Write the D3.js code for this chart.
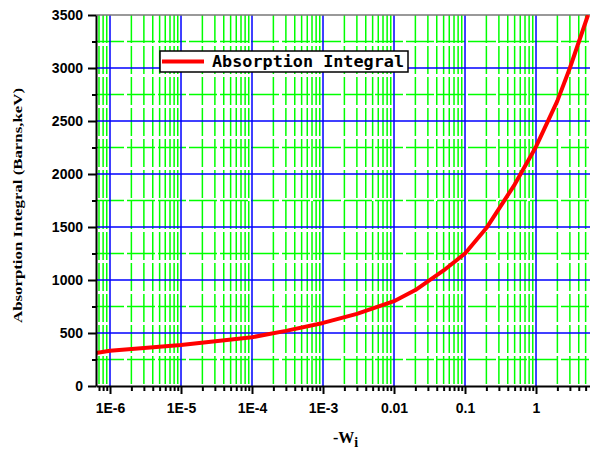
<!DOCTYPE html>
<html>
<head>
<meta charset="utf-8">
<script src="https://cdn.jsdelivr.net/npm/d3@7"></script>
<style>
  body { margin: 0; background: #fff; }
  .tick-label { font-family: "Liberation Sans", Arial, sans-serif; font-weight: bold; font-size: 14px; }
</style>
</head>
<body>
<div class="chart"></div>
<script>
// values
var wValues = [6.35e-7, 1e-6, 1e-5, 1e-4, 3e-4, 1e-3, 3e-3, 0.01, 0.02, 0.05, 0.1, 0.2, 0.5, 1, 2, 3, 5.4];
var absorption = [311, 332, 387, 460, 520, 595, 680, 800, 905, 1090, 1250, 1490, 1900, 2258, 2690, 3000, 3500];
var xTickValues = [1e-6, 1e-5, 1e-4, 1e-3, 0.01, 0.1, 1];
var xTickLabels = ["1E-6", "1E-5", "1E-4", "1E-3", "0.01", "0.1", "1"];
var yTickValues = [0, 500, 1000, 1500, 2000, 2500, 3000, 3500];
var seriesName = "Absorption Integral";

var svgWidth = 590;
var svgHeight = 452;

var margin = { top: 15, right: 0, bottom: 66, left: 96 };
var width = svgWidth - margin.left - margin.right;
var height = svgHeight - margin.top - margin.bottom;

var svg = d3.select(".chart")
  .append("svg")
  .attr("width", svgWidth)
  .attr("height", svgHeight);

var chartGroup = svg.append("g")
  .attr("transform", `translate(${margin.left}, ${margin.top})`);

var xScale = d3.scaleLog()
  .domain([6.35e-7, 5.76])
  .range([0, width]);

var yScale = d3.scaleLinear()
  .domain([0, 3500])
  .range([height, 0]);

// minor values
var xMinor = [];
for (var e = -7; e <= 0; e++) {
  for (var m = 2; m <= 9; m++) {
    var v = m * Math.pow(10, e);
    if (v > xScale.domain()[0] && v < xScale.domain()[1]) xMinor.push(v);
  }
}
var yMinor = d3.range(250, 3500, 500);

chartGroup.append("defs").append("clipPath")
  .attr("id", "plotClip")
  .append("rect")
  .attr("width", width)
  .attr("height", height);

// green minor grid
var grid = chartGroup.append("g");
grid.selectAll(".vminor")
  .data(xMinor)
  .enter()
  .append("line")
  .attr("x1", d => xScale(d)).attr("x2", d => xScale(d))
  .attr("y1", 0).attr("y2", height)
  .attr("stroke", "#00ff00")
  .attr("stroke-width", 1.5)
  .attr("stroke-dasharray", "28,3");

grid.selectAll(".hminor")
  .data(yMinor)
  .enter()
  .append("line")
  .attr("x1", 0).attr("x2", width)
  .attr("y1", d => yScale(d)).attr("y2", d => yScale(d))
  .attr("stroke", "#00ff00")
  .attr("stroke-width", 1.5)
  .attr("stroke-dasharray", "28,3");

// blue major grid
grid.selectAll(".vmajor")
  .data(xTickValues)
  .enter()
  .append("line")
  .attr("x1", d => xScale(d)).attr("x2", d => xScale(d))
  .attr("y1", 0).attr("y2", height)
  .attr("stroke", "#0000ff")
  .attr("stroke-width", 1.5);

grid.selectAll(".hmajor")
  .data(yTickValues.slice(1, -1))
  .enter()
  .append("line")
  .attr("x1", 0).attr("x2", width)
  .attr("y1", d => yScale(d)).attr("y2", d => yScale(d))
  .attr("stroke", "#0000ff")
  .attr("stroke-width", 1.5);

// top border
chartGroup.append("line")
  .attr("x1", 0).attr("x2", width)
  .attr("y1", 0).attr("y2", 0)
  .attr("stroke", "#777")
  .attr("stroke-width", 1.5);

// the curve
var line = d3.line()
  .x((d, i) => xScale(wValues[i]))
  .y(d => yScale(d));

chartGroup.append("path")
  .datum(absorption)
  .attr("clip-path", "url(#plotClip)")
  .attr("fill", "none")
  .attr("stroke", "#ff0000")
  .attr("stroke-width", 4)
  .attr("stroke-linejoin", "round")
  .attr("d", line);

// axes
var bottomAxis = d3.axisBottom(xScale)
  .tickValues(xTickValues)
  .tickFormat((d, i) => xTickLabels[i])
  .tickSize(8)
  .tickSizeOuter(0)
  .tickPadding(6);

var xAxisG = chartGroup.append("g")
  .attr("transform", `translate(0, ${height})`)
  .call(bottomAxis);

chartGroup.append("g")
  .attr("transform", `translate(0, ${height})`)
  .call(d3.axisBottom(xScale).tickValues(xMinor).tickFormat("").tickSize(5).tickSizeOuter(0))
  .call(g => g.select(".domain").remove());

var leftAxis = d3.axisLeft(yScale)
  .tickValues(yTickValues)
  .tickFormat(d3.format("d"))
  .tickSize(8)
  .tickSizeOuter(0)
  .tickPadding(5);

var yAxisG = chartGroup.append("g")
  .call(leftAxis);

chartGroup.append("g")
  .call(d3.axisLeft(yScale).tickValues(yMinor).tickFormat("").tickSize(4).tickSizeOuter(0))
  .call(g => g.select(".domain").remove());

chartGroup.selectAll(".domain, .tick line")
  .attr("stroke", "#000")
  .attr("stroke-width", 2);

chartGroup.selectAll(".tick text")
  .attr("class", "tick-label")
  .attr("fill", "#000");

xAxisG.selectAll(".tick text").attr("dy", "0.9em");

// legend
var legend = chartGroup.append("g")
  .attr("transform", "translate(64, 36)");

legend.append("rect")
  .attr("width", 248)
  .attr("height", 21)
  .attr("fill", "#fff")
  .attr("stroke", "#000")
  .attr("stroke-width", 1.5);

legend.append("line")
  .attr("x1", 2).attr("x2", 44)
  .attr("y1", 10.5).attr("y2", 10.5)
  .attr("stroke", "#ff0000")
  .attr("stroke-width", 4);

legend.append("text")
  .attr("x", 52)
  .attr("y", 16)
  .style("font-family", "'DejaVu Sans Mono', monospace")
  .style("font-weight", "bold")
  .style("font-size", "16px")
  .attr("textLength", 192)
  .attr("lengthAdjust", "spacingAndGlyphs")
  .text(seriesName);

// axis titles
var xTitle = svg.append("text")
  .attr("x", 333)
  .attr("y", 443)
  .style("font-family", "'Liberation Serif', 'Times New Roman', serif")
  .style("font-weight", "bold")
  .style("font-size", "16px");
xTitle.append("tspan").text("-W");
xTitle.append("tspan")
  .attr("dy", 4)
  .style("font-size", "14px")
  .text("i");

svg.append("text")
  .attr("transform", "translate(22, 205.5) rotate(-90)")
  .style("text-anchor", "middle")
  .style("font-family", "'Liberation Serif', 'Times New Roman', serif")
  .style("font-weight", "bold")
  .style("font-size", "13px")
  .attr("textLength", 235)
  .attr("lengthAdjust", "spacingAndGlyphs")
  .text("Absorption Integral (Barns,keV)");
</script>
</body>
</html>
